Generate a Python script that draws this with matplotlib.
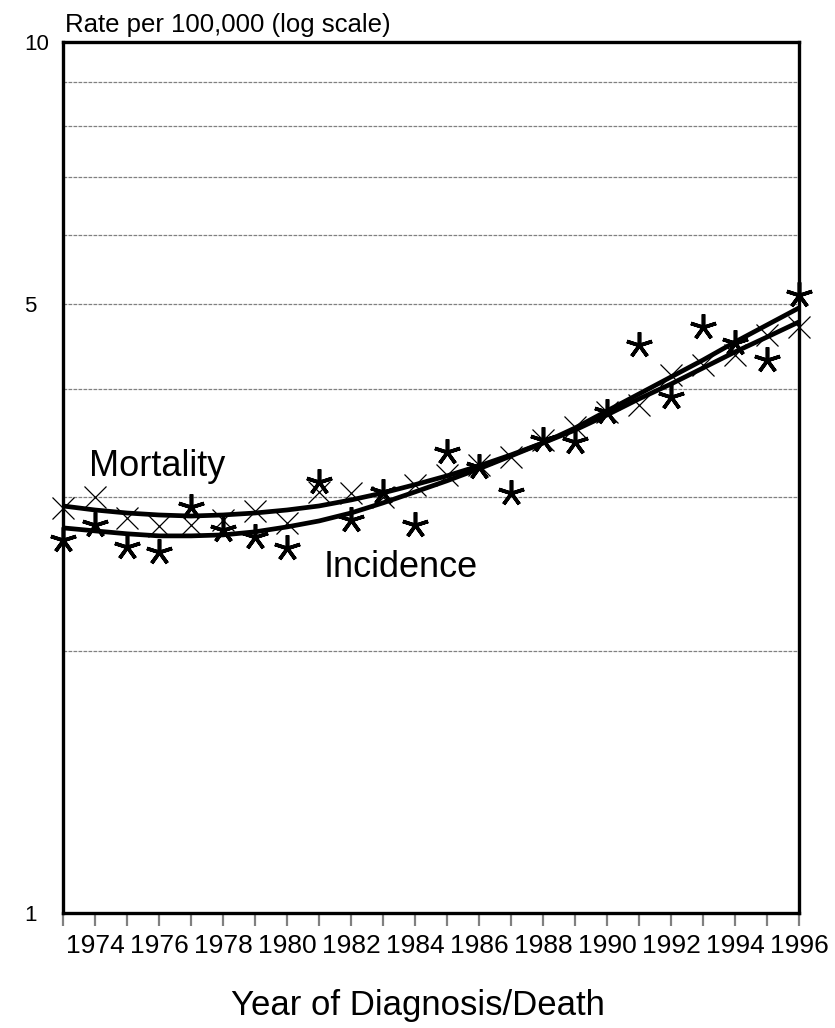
import matplotlib
matplotlib.use("Agg")
import matplotlib.pyplot as plt
from matplotlib.ticker import FixedLocator, NullLocator

plt.rcParams['font.family'] = ['Liberation Sans', 'DejaVu Sans']

years = list(range(1973, 1997))

mortality_obs = [2.917, 3.004, 2.841, 2.782, 2.790, 2.826, 2.894, 2.804, 3.044, 3.036,
                 3.004, 3.103, 3.184, 3.269, 3.339, 3.492, 3.614, 3.761, 3.831, 4.147,
                 4.258, 4.371, 4.608, 4.708]
incidence_obs = [2.682, 2.790, 2.632, 2.597, 2.925, 2.753, 2.703, 2.625, 3.127, 2.826,
                 3.044, 2.790, 3.383, 3.252, 3.036, 3.492, 3.474, 3.761, 4.488, 3.913,
                 4.708, 4.512, 4.314, 5.123]
mortality_fit = [2.933, 2.902, 2.879, 2.864, 2.856, 2.864, 2.879, 2.902, 2.933, 2.980,
                 3.036, 3.103, 3.176, 3.261, 3.357, 3.465, 3.585, 3.731, 3.893, 4.049,
                 4.224, 4.407, 4.584, 4.771]
incidence_fit = [2.768, 2.746, 2.725, 2.710, 2.710, 2.717, 2.739, 2.775, 2.819, 2.879,
                 2.957, 3.044, 3.135, 3.236, 3.348, 3.465, 3.604, 3.771, 3.944, 4.125,
                 4.314, 4.524, 4.733, 4.951]

grid_values = [2, 3, 4, 5, 6, 7, 8, 9]
ytick_values = [1, 5, 10]
ytick_labels = ["1", "5", "10"]
xtick_labels = [str(y) for y in range(1974, 1997, 2)]

fig = plt.figure(figsize=(8.35, 10.28), dpi=100)
ax = fig.add_axes([63/835, 1-913/1028, (799-63)/835, (913-42)/1028])

ax.set_yscale('log')
ax.set_ylim(1, 10)
ax.set_xlim(1973, 1996)

for g in grid_values:
    ax.axhline(g, color='#808080', linewidth=0.9, linestyle=(0, (3, 1)), zorder=1)

ax.plot(years, mortality_fit, color='black', linewidth=3.4, zorder=3, solid_capstyle='butt')
ax.plot(years, incidence_fit, color='black', linewidth=3.4, zorder=3, solid_capstyle='butt')
ax.plot(years, mortality_obs, linestyle='none', marker='x', markersize=16,
        markeredgewidth=0.9, color='black', zorder=4, clip_on=False)
ax.plot(years, incidence_obs, linestyle='none', marker=(5, 2, 0), markersize=19,
        markeredgewidth=2.6, color='black', zorder=4, clip_on=False)

ax.text(1973.82, 3.175, "Mortality", fontsize=26, ha='left', va='baseline')
ax.text(1981.15, 2.431, "Incidence", fontsize=26, ha='left', va='baseline')

ax.yaxis.set_major_locator(FixedLocator(ytick_values))
ax.yaxis.set_minor_locator(NullLocator())
ax.set_yticklabels(ytick_labels)
ax.tick_params(axis='y', which='both', length=0, pad=28, labelsize=16)
for lab in ax.get_yticklabels():
    lab.set_horizontalalignment('left')

ax.xaxis.set_major_locator(FixedLocator(list(range(1974, 1997, 2))))
ax.xaxis.set_minor_locator(FixedLocator(list(range(1973, 1997, 2))))
ax.set_xticklabels(xtick_labels)
ax.tick_params(axis='x', which='both', direction='out', length=9, width=1.6,
               color='#808080', labelsize=19, pad=6)

for sp in ax.spines.values():
    sp.set_linewidth(2.4)
    sp.set_color('black')

fig.text(65/835, 1-25/1028, "Rate per 100,000 (log scale)", fontsize=18.5,
         ha='left', va='center')
fig.text(418/835, 1-1015/1028, "Year of Diagnosis/Death", fontsize=25,
         ha='center', va='baseline')

fig.savefig("out.png", dpi=100)
